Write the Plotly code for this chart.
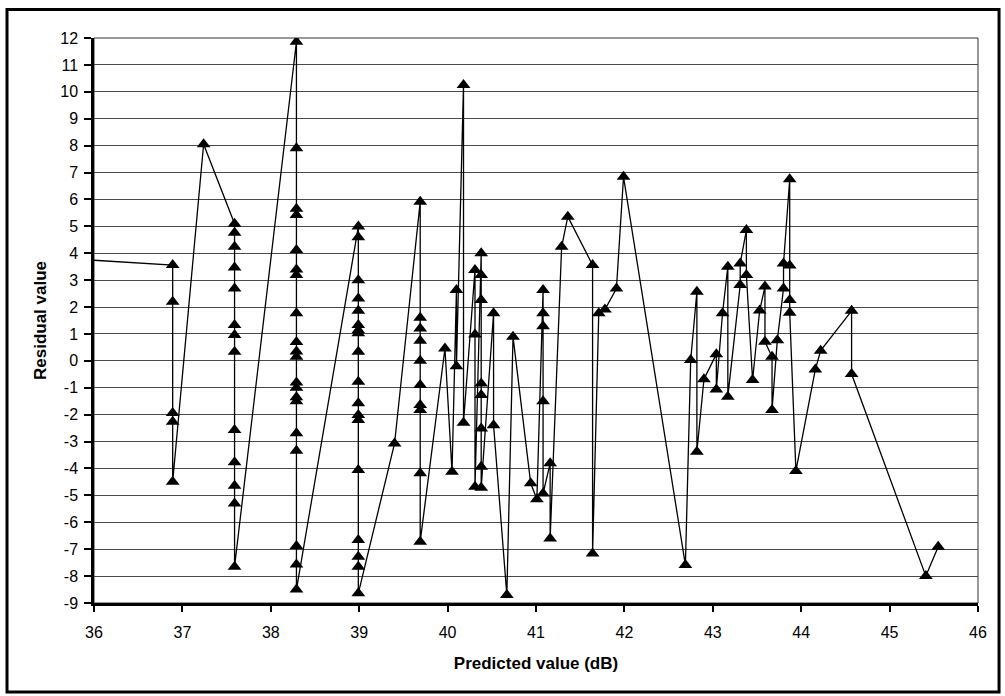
import plotly.graph_objects as go

# Predicted value (dB), in plotting order
predicted = [
    35.70,
    36.89, 36.89, 36.89, 36.89, 36.89,
    37.24,
    37.59, 37.59, 37.59, 37.59, 37.59, 37.59, 37.59, 37.59, 37.59, 37.59, 37.59, 37.59, 37.59,
    38.29, 38.29, 38.29, 38.29, 38.29, 38.29, 38.29, 38.29, 38.29, 38.29,
    38.29, 38.29, 38.29, 38.29, 38.29, 38.29, 38.29, 38.29, 38.29, 38.29,
    38.99, 38.99, 38.99, 38.99, 38.99, 38.99, 38.99, 38.99, 38.99,
    38.99, 38.99, 38.99, 38.99, 38.99, 38.99, 38.99, 38.99, 38.99,
    39.40,
    39.69, 39.69, 39.69, 39.69, 39.69, 39.69, 39.69, 39.69, 39.69, 39.69,
    39.97, 40.05, 40.10, 40.10, 40.18, 40.18,
    40.31, 40.31, 40.31,
    40.38, 40.38, 40.38, 40.38, 40.38, 40.38, 40.38, 40.38,
    40.52, 40.52,
    40.67, 40.74,
    40.94, 41.01,
    41.08, 41.08, 41.08, 41.08, 41.08,
    41.16, 41.16,
    41.29, 41.36, 41.64, 41.64, 41.71, 41.78, 41.91, 41.99,
    42.69, 42.75, 42.82, 42.82, 42.90, 43.04, 43.04, 43.11, 43.17, 43.17,
    43.31, 43.31, 43.38, 43.38, 43.45, 43.53, 43.59, 43.59, 43.67, 43.67, 43.73,
    43.80, 43.80, 43.87, 43.87, 43.87, 43.87, 43.94, 44.16, 44.22, 44.57, 44.57,
    45.41, 45.55,
]

# Residual value, same order
residual = [
    3.80,
    3.56, 2.20, -1.94, -2.26, -4.49,
    8.05,
    5.10, 4.76, 4.24, 3.47, 2.69, 1.33, 0.96, 0.34, -2.57, -3.77, -4.64, -5.30, -7.65,
    11.86, 7.90, 5.65, 5.42, 4.12, 3.40, 3.19, 1.77, 0.70, 0.35,
    0.15, -0.80, -1.00, -1.35, -1.50, -2.69, -3.34, -6.88, -7.57, -8.50,
    4.99, 4.59, 3.00, 2.32, 1.86, 1.33, 1.14, 1.03, 0.34,
    -0.78, -1.58, -2.01, -2.20, -4.06, -6.66, -7.28, -7.65, -8.64,
    -3.07,
    5.91, 1.60, 1.20, 0.75, 0.00, -0.90, -1.64, -1.83, -4.18, -6.72,
    0.46, -4.12, 2.63, -0.20, 10.25, -2.30,
    3.38, 0.98, -4.68,
    4.00, 3.19, 2.26, -0.84, -1.27, -2.51, -3.94, -4.72,
    1.77, -2.39,
    -8.70, 0.90,
    -4.55, -5.14,
    2.63, 1.77, 1.29, -1.50, -4.93,
    -3.81, -6.60,
    4.24, 5.36, 3.56, -7.16, 1.77, 1.91, 2.69, 6.84,
    -7.59, 0.03, 2.57, -3.38, -0.68, 0.25, -1.06, 1.77, 3.50, -1.33,
    2.82, 3.62, 4.86, 3.19, -0.71, 1.87, 2.76, 0.71, 0.15, -1.83, 0.77,
    2.69, 3.62, 6.75, 3.54, 2.26, 1.79, -4.09, -0.32, 0.38, 1.86, -0.49,
    -8.00, -6.91,
]

x_ticks = [36, 37, 38, 39, 40, 41, 42, 43, 44, 45, 46]
y_ticks = [12, 11, 10, 9, 8, 7, 6, 5, 4, 3, 2, 1, 0, -1, -2, -3, -4, -5, -6, -7, -8, -9]

FONT = "Arial, Liberation Sans, sans-serif"

fig = go.Figure()
fig.add_trace(go.Scatter(
    x=predicted, y=residual, mode="lines+markers",
    line=dict(color="black", width=1.3),
    marker=dict(symbol="triangle-up", size=12, color="black"),
    showlegend=False,
))

fig.update_layout(
    width=1005, height=696,
    margin=dict(l=94, r=27, t=38, b=93),
    paper_bgcolor="white", plot_bgcolor="white",
    font=dict(family=FONT, size=16, color="black"),
    xaxis=dict(
        range=[36, 46], tickvals=x_ticks, ticktext=[str(v) for v in x_ticks],
        showgrid=False, zeroline=False,
        showline=True, linecolor="black", linewidth=2.5,
        ticks="outside", ticklen=6, tickwidth=2, tickcolor="black",
        tickfont=dict(size=16), ticklabelstandoff=7,
        title=dict(text="<b>Predicted value (dB)</b>", font=dict(size=17), standoff=18),
    ),
    yaxis=dict(
        range=[-9, 12], tickvals=y_ticks, ticktext=[str(v) for v in y_ticks],
        showgrid=True, gridcolor="#4a4a4a", gridwidth=1,
        zeroline=False,
        showline=True, linecolor="black", linewidth=2.5,
        ticks="outside", ticklen=7, tickwidth=2, tickcolor="black",
        tickfont=dict(size=16), ticklabelstandoff=3,
        title=dict(text="<b>Residual value</b>", font=dict(size=17), standoff=10),
    ),
    shapes=[
        dict(type="rect", xref="paper", yref="paper", x0=0, x1=1, y0=0, y1=1,
             line=dict(color="#333333", width=1), layer="below"),
        dict(type="rect", xref="paper", yref="paper",
             x0=-0.0984, x1=1.0238, y0=-0.1575, y1=1.0504,
             line=dict(color="black", width=3)),
    ],
)

fig.write_html("out.html")
